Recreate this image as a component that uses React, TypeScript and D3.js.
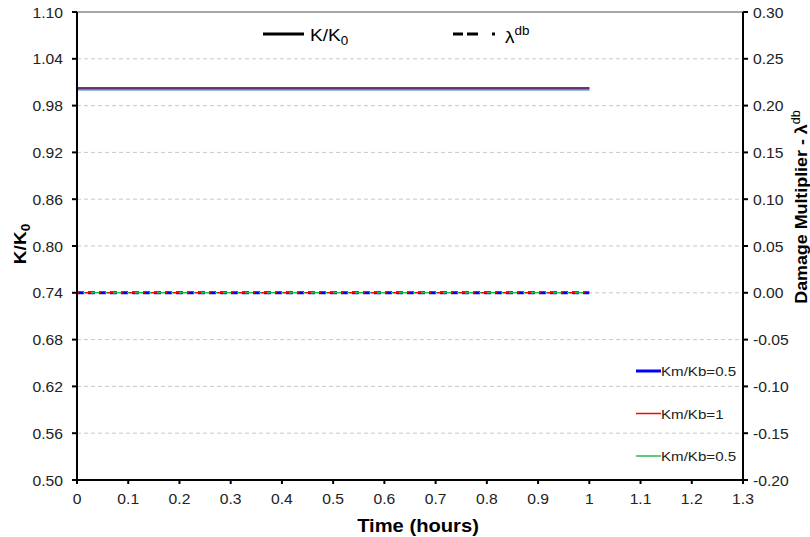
import React from "react";
import * as d3 from "d3";

const xTicks = [0, 0.1, 0.2, 0.3, 0.4, 0.5, 0.6, 0.7, 0.8, 0.9, 1, 1.1, 1.2, 1.3];
const yLeftTicks = [0.5, 0.56, 0.62, 0.68, 0.74, 0.8, 0.86, 0.92, 0.98, 1.04, 1.1];
const yRightTicks = [-0.2, -0.15, -0.1, -0.05, 0, 0.05, 0.1, 0.15, 0.2, 0.25, 0.3];

const timeValues = [0, 0.25, 0.5, 0.75, 1];
const seriesNames = ["Km/Kb=0.5", "Km/Kb=1", "Km/Kb=0.5"];
const seriesColors = ["#0000ff", "#ff0000", "#22bb55"];
const seriesWidths = [3, 1.5, 1.5];
const kRatio = [
  [1.0015, 1.0015, 1.0015, 1.0015, 1.0015],
  [1.003, 1.003, 1.003, 1.003, 1.003],
  [1.0005, 1.0005, 1.0005, 1.0005, 1.0005],
];
const damage = [
  [0, 0, 0, 0, 0],
  [0, 0, 0, 0, 0],
  [0, 0, 0, 0, 0],
];

const L = 77, R = 743, T = 12, B = 480;
const font = "Arial, 'Liberation Sans', sans-serif";
const SX = 1.12;

export default function App() {
  const x = d3.scaleLinear().domain([0, 1.3]).range([L, R]);
  const yL = d3.scaleLinear().domain([0.5, 1.1]).range([B, T]);
  const yR = d3.scaleLinear().domain([-0.2, 0.3]).range([B, T]);
  const lineK = (vals: number[]) =>
    d3.line<number>().x((_, i) => x(timeValues[i])).y((v) => yL(v))(vals) || "";
  const lineD = (vals: number[]) =>
    d3.line<number>().x((_, i) => x(timeValues[i])).y((v) => yR(v))(vals) || "";
  const dashOffsets = [0, 8, 14];
  const tr = (tx: number, ty: number) => `translate(${tx},${ty}) scale(${SX},1)`;

  return (
    <svg width={810} height={537} style={{ position: "absolute", left: 0, top: 0 }} fontFamily={font}>
      <rect width={810} height={537} fill="white" />
      {yLeftTicks.slice(1, -1).map((t) => (
        <line key={t} x1={L} x2={R} y1={yL(t)} y2={yL(t)} stroke="#c8c8c8" strokeDasharray="4 3" strokeWidth={1} />
      ))}
      <line x1={L} x2={R} y1={T} y2={T} stroke="#888" strokeWidth={1.5} />
      {/* series */}
      {kRatio.map((vals, i) => (
        <path key={"k" + i} d={lineK(vals)} fill="none" stroke={seriesColors[i]} strokeWidth={seriesWidths[i]} />
      ))}
      {damage.map((vals, i) => (
        <path key={"d" + i} d={lineD(vals)} fill="none" stroke={seriesColors[i]} strokeWidth={seriesWidths[i]}
          strokeDasharray={i === 0 ? "7 4 7 4" : "8 6 2 6"} strokeDashoffset={-dashOffsets[i]} />
      ))}
      {/* axes */}
      <line x1={L} x2={L} y1={T} y2={B} stroke="black" strokeWidth={2} />
      <line x1={R} x2={R} y1={T} y2={B} stroke="black" strokeWidth={2} />
      <line x1={L} x2={R} y1={B} y2={B} stroke="black" strokeWidth={2} />
      {xTicks.map((t) => (
        <g key={t}>
          <line x1={x(t)} x2={x(t)} y1={B} y2={B + 4} stroke="black" strokeWidth={2} />
          <text transform={tr(x(t), B + 24)} textAnchor="middle" fontSize={14} fill="#222">{String(t)}</text>
        </g>
      ))}
      {yLeftTicks.map((t) => (
        <g key={t}>
          <line x1={L - 5} x2={L} y1={yL(t)} y2={yL(t)} stroke="black" strokeWidth={2} />
          <text transform={tr(L - 14, yL(t) + 5.5)} textAnchor="end" fontSize={14} fill="#222">{t.toFixed(2)}</text>
        </g>
      ))}
      {yRightTicks.map((t) => (
        <g key={t}>
          <line x1={R} x2={R + 5} y1={yR(t)} y2={yR(t)} stroke="black" strokeWidth={2} />
          <text transform={tr(R + 10, yR(t) + 5.5)} textAnchor="start" fontSize={14} fill="#222">{t.toFixed(2)}</text>
        </g>
      ))}
      {/* axis titles */}
      <text transform={tr(418, 532)} textAnchor="middle" fontSize={18} fontWeight="bold">Time (hours)</text>
      <text transform={`translate(26,244) rotate(-90) scale(${SX},1)`} textAnchor="middle" fontSize={17} fontWeight="bold">
        K/K<tspan fontSize={12} dy={4}>0</tspan>
      </text>
      <text transform={`translate(807,207) rotate(-90) scale(1.05,1)`} textAnchor="middle" fontSize={17} fontWeight="bold">
        Damage Multiplier - λ<tspan fontSize={12} dy={-7} fontWeight="normal">db</tspan>
      </text>
      {/* top legend */}
      <line x1={263} x2={304} y1={34} y2={34} stroke="black" strokeWidth={3} />
      <text transform={tr(310, 41)} fontSize={17}>K/K<tspan fontSize={12} dy={4}>0</tspan></text>
      <line x1={453} x2={496} y1={34} y2={34} stroke="black" strokeWidth={3} strokeDasharray="10 4 11 14 3 50" />
      <text transform={tr(505, 43)} fontSize={17}>λ<tspan fontSize={12} dy={-8}>db</tspan></text>
      {/* right legend */}
      {seriesNames.map((n, i) => (
        <g key={i}>
          <line x1={636} x2={661} y1={371 + i * 42.5} y2={371 + i * 42.5} stroke={seriesColors[i]} strokeWidth={seriesWidths[i]} />
          <text transform={tr(661, 376 + i * 42.5)} fontSize={13.5} fill="#222">{n}</text>
        </g>
      ))}
    </svg>
  );
}
